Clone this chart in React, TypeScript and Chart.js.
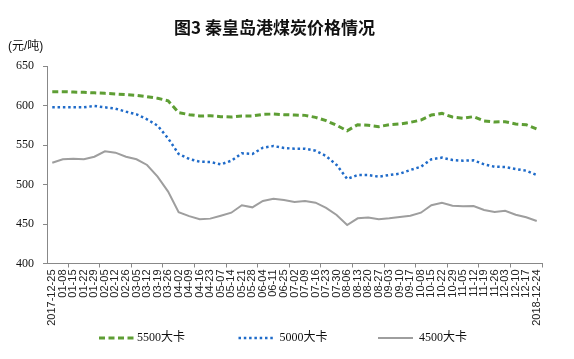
import React, { useEffect, useRef } from "react";
import { Chart, registerables } from "chart.js";

Chart.register(...registerables);

const categories = [
  "2017-12-25", "01-08", "01-15", "01-22", "01-29", "02-05", "02-12", "02-26",
  "03-05", "03-12", "03-19", "03-26", "04-02", "04-09", "04-16", "04-23",
  "05-07", "05-14", "05-21", "05-28", "06-04", "06-11", "06-25", "07-02",
  "07-09", "07-16", "07-23", "07-30", "08-06", "08-13", "08-20", "08-27",
  "09-03", "09-10", "09-17", "10-08", "10-15", "10-22", "10-29", "11-05",
  "11-12", "11-19", "11-26", "12-03", "12-10", "12-17", "2018-12-24",
];

const series5500 = [
  617.5, 617.5, 617, 616.7, 616, 615.4, 614.6, 613.7, 612.9, 611.2, 609.1, 606,
  591, 588.4, 586.7, 587, 585.9, 585.4, 586.7, 586.7, 588.8, 589.2, 588.4, 588,
  587.5, 585, 580.8, 574.9, 568.1, 575.7, 574.9, 573.2, 575.7, 576.6, 578.7,
  581.6, 588, 590, 585.4, 583.8, 585.9, 580.4, 579.1, 579.5, 576.6, 575.7, 570.3,
];

const series5000 = [
  597.7, 597.7, 597.7, 597.7, 599.4, 597.7, 596, 592.2, 588.8, 582.5, 574.5,
  558.4, 538.6, 532.3, 528.9, 528.5, 525.5, 530.1, 539.5, 538.6, 546.6, 548.7,
  546.2, 545.3, 545.3, 542.8, 536, 524.7, 507, 512, 512, 509.9, 512, 513.7,
  518.4, 522.5, 531.9, 534, 531, 530.1, 530.6, 525.5, 522.5, 522.2, 519.6,
  517.5, 512,
];

const series4500 = [
  527.6, 531.9, 532.7, 531.9, 535.2, 542, 540.3, 535.2, 531.9, 524.7, 509.9,
  491, 464.8, 460, 456, 456.8, 460.5, 464.3, 473.7, 471.1, 479.1, 482, 480.4,
  477.8, 479.1, 477, 470.3, 461.4, 448.7, 457.2, 458.2, 455.9, 457.2, 458.9,
  460.5, 464.3, 473.7, 477, 473.2, 472.4, 472.8, 467.7, 465.2, 466.8, 461.8,
  458.5, 453.8,
];

const seriesNames = ["5500大卡", "5000大卡", "4500大卡"];
const yTicks = { min: 400, max: 650, step: 50 };

const AXIS = "#888888";

const legendPlugin = {
  id: "customLegend",
  afterDraw(chart: any) {
    const ctx = chart.ctx;
    const ds = chart.data.datasets;
    ctx.save();
    const y = 338;
    const startX = 99;
    const pitch = 139.5;
    ds.forEach((d: any, i: number) => {
      const x0 = startX + i * pitch;
      ctx.beginPath();
      ctx.setLineDash(d.borderDash || []);
      ctx.lineWidth = d.borderWidth;
      ctx.strokeStyle = d.borderColor;
      ctx.lineCap = "butt";
      ctx.moveTo(x0, y);
      ctx.lineTo(x0 + 35, y);
      ctx.stroke();
      ctx.setLineDash([]);
      ctx.fillStyle = "#111";
      ctx.font = '12px "Liberation Serif", "Noto Sans CJK SC", serif';
      ctx.textBaseline = "middle";
      ctx.textAlign = "left";
      ctx.fillText(d.label, x0 + 38 + (i === 0 ? 0 : 3), y);
    });
    ctx.restore();
  },
};

export default function App() {
  const canvasRef = useRef<HTMLCanvasElement>(null);

  useEffect(() => {
    const canvas = canvasRef.current;
    if (!canvas) return;
    const chart = new Chart(canvas, {
      type: "line",
      data: {
        labels: categories,
        datasets: [
          {
            label: seriesNames[0],
            data: series5500,
            borderColor: "#5E9E34",
            borderWidth: 3,
            borderDash: [6, 3.5],
            pointRadius: 0,
            tension: 0,
            fill: false,
          },
          {
            label: seriesNames[1],
            data: series5000,
            borderColor: "#1F6BC9",
            borderWidth: 2.5,
            borderDash: [2.5, 2.8],
            pointRadius: 0,
            tension: 0,
            fill: false,
          },
          {
            label: seriesNames[2],
            data: series4500,
            borderColor: "#9E9E9E",
            borderWidth: 2,
            pointRadius: 0,
            tension: 0,
            fill: false,
          },
        ],
      },
      options: {
        responsive: false,
        maintainAspectRatio: false,
        animation: false,
        devicePixelRatio: 1,
        layout: { padding: { top: 66, right: 32, bottom: 0, left: 0 } },
        plugins: {
          legend: { display: false },
          tooltip: { enabled: false },
          title: { display: false },
        },
        scales: {
          x: {
            type: "category",
            offset: true,
            grid: {
              offset: true,
              drawOnChartArea: false,
              drawTicks: true,
              tickLength: 4,
              color: (c: any) => {
                const i = c.index;
                if (i === undefined) return AXIS;
                return i % 3 === 2 ? AXIS : "rgba(0,0,0,0)";
              },
            },
            border: { display: true, color: AXIS, width: 1 },
            ticks: {
              autoSkip: false,
              maxRotation: 90,
              minRotation: 90,
              padding: 2,
              color: "#222",
              font: { family: '"Liberation Sans", Arial, sans-serif', size: 11 },
            },
            afterFit: (s: any) => {
              s.height = 95.5;
            },
          },
          y: {
            min: yTicks.min,
            max: yTicks.max,
            ticks: {
              stepSize: yTicks.step,
              padding: 9,
              color: "#111",
              font: { family: '"Liberation Serif", "Times New Roman", serif', size: 12 },
            },
            grid: {
              drawOnChartArea: false,
              drawTicks: true,
              tickLength: 4,
              color: AXIS,
            },
            border: { display: true, color: AXIS, width: 1 },
            afterFit: (s: any) => {
              s.width = 47;
            },
          },
        },
      },
      plugins: [legendPlugin],
    });
    return () => chart.destroy();
  }, []);

  return (
    <div style={{ position: "absolute", left: 0, top: 0, width: 574, height: 359, background: "#fff" }}>
      <canvas ref={canvasRef} width={574} height={359} style={{ position: "absolute", left: 0, top: 0 }} />
      <div
        style={{
          position: "absolute",
          left: 0,
          top: 16,
          width: 549,
          textAlign: "center",
          fontFamily: '"Noto Sans CJK SC", sans-serif',
          fontWeight: 700,
          fontSize: 17,
          lineHeight: "22px",
          color: "#111",
          whiteSpace: "nowrap",
        }}
      >
        图3 秦皇岛港煤炭价格情况
      </div>
      <div
        style={{
          position: "absolute",
          left: 8,
          top: 37,
          fontFamily: '"Liberation Sans", "Noto Sans CJK SC", sans-serif',
          fontSize: 12,
          lineHeight: "18px",
          color: "#111",
          whiteSpace: "nowrap",
        }}
      >
        (元/吨)
      </div>
    </div>
  );
}
